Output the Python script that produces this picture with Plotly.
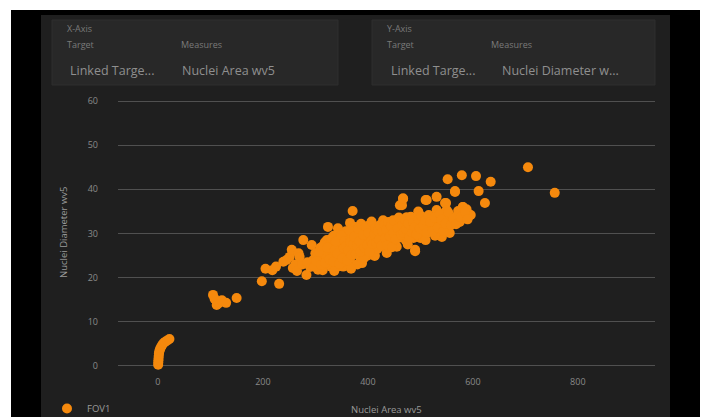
import plotly.graph_objects as go

# ---------------- data ----------------
series_name = "FOV1"

x_tick_vals = [0, 200, 400, 600, 800]
y_tick_vals = [0, 10, 20, 30, 40, 50, 60]

area_small = [0.5, 0.8, 1.0, 1.3, 1.6, 2.0, 2.6, 3.5, 4.8, 6.5, 8.5, 11, 14, 18, 22]
diam_small = [0.3, 0.8, 1.3, 1.8, 2.3, 2.8, 3.2, 3.6, 4.0, 4.4, 4.8, 5.2, 5.5, 5.8, 6.1]

area_low = [105, 108, 112, 116, 122, 130, 150]
diam_low = [16.1, 15.2, 13.8, 14.2, 14.9, 14.3, 15.4]

area_main = [
    198, 231, 218, 205, 225, 239,
    245, 251, 255, 257, 262, 268, 270, 277, 265, 275,
    283, 290, 293, 296, 300, 303, 305, 308, 312, 314, 316, 318, 285, 298, 310, 320,
    324, 328, 322, 325, 330, 332, 335, 338, 340, 341, 343, 345, 347, 350, 352, 355,
    357, 360, 326, 333, 336, 344, 348, 353, 358,
    366, 366, 366, 371, 373, 375, 378, 380, 382, 385, 385, 388, 389, 390, 392, 395,
    398, 400, 362, 368, 370, 376, 383, 393, 397,
    402, 405, 408, 410, 413, 413, 415, 417, 420, 422, 425, 429, 429, 432, 436, 438,
    404, 411, 418, 427, 434, 440,
    443, 448, 450, 455, 455, 458, 461, 465, 467, 467, 470, 472, 474, 474, 478, 480,
    445, 452, 462, 476,
    483, 487, 490, 490, 492, 495, 498, 500, 503, 505, 505, 508, 510, 512, 514, 518,
    485, 496, 510,
    522, 525, 531, 531, 535, 538, 541, 543, 547, 549, 550, 552, 556, 556, 528, 545,
    566, 566, 575, 579, 581, 581, 594, 596, 606, 611, 570, 588, 623, 634,
    705, 756,
    302, 307, 311, 315, 319, 323, 327, 331, 334, 337, 339, 342, 346, 349, 351, 354,
    356, 359, 361, 363, 365, 367, 369, 372, 374, 377, 379, 381, 384, 386, 387, 391,
    394, 396, 399, 401, 403, 406, 407, 409, 412, 414, 416, 419, 421, 423, 426, 428,
    431, 433, 435, 437, 439, 442, 444, 446, 449, 451, 453, 457, 459, 463, 466, 468,
    471, 473, 477, 479, 482, 484, 486, 489, 493, 497, 499, 502, 506, 509, 513, 516,
    519, 523, 527, 533, 537, 540, 544, 548, 553, 558, 563, 568, 572, 577, 585, 590,
]
diam_main = [
    19.2, 18.6, 21.7, 22.0, 22.5, 23.6,
    24.0, 24.7, 26.3, 22.2, 23.0, 25.5, 24.7, 28.5, 21.5, 23.0,
    20.6, 22.4, 27.4, 24.0, 25.5, 24.7, 21.8, 23.2, 24.0, 21.7, 26.0, 28.0, 23.5, 22.5, 26.8, 24.8,
    31.5, 25.6, 28.5, 23.0, 22.5, 27.0, 29.5, 25.0, 23.5, 22.4, 31.2, 27.5, 24.7, 26.0, 27.8, 29.0,
    23.5, 25.5, 26.5, 24.5, 21.5, 30.0, 28.5, 22.5, 30.5,
    32.4, 24.0, 27.0, 35.1, 30.0, 26.0, 28.0, 23.0, 29.5, 24.7, 30.1, 27.0, 23.3, 31.0, 26.0, 28.5,
    28.5, 25.0, 29.0, 22.0, 26.5, 31.5, 26.5, 24.5, 30.5,
    27.0, 29.0, 31.0, 26.0, 25.1, 24.9, 28.0, 31.5, 29.5, 27.0, 30.0, 29.2, 33.0, 27.5, 25.6, 31.0,
    32.0, 30.0, 26.5, 28.5, 29.8, 28.0,
    30.0, 33.0, 27.5, 30.8, 27.0, 29.0, 36.4, 36.4, 37.8, 38.0, 31.5, 28.5, 29.2, 33.7, 30.5, 32.4,
    28.5, 31.5, 33.0, 27.5,
    31.0, 29.0, 26.0, 26.3, 33.0, 30.5, 32.0, 29.0, 31.5, 33.5, 29.2, 30.5, 37.6, 37.6, 32.0, 30.8,
    33.5, 35.0, 28.5,
    33.0, 31.0, 38.3, 35.3, 32.0, 30.0, 29.2, 31.5, 36.9, 36.9, 35.3, 42.3, 33.0, 30.1, 29.5, 33.5,
    39.6, 39.4, 32.6, 43.2, 36.0, 36.0, 34.2, 34.2, 43.0, 39.6, 34.0, 35.5, 36.9, 41.7,
    45.0, 39.2,
    23.8, 25.9, 22.9, 27.2, 23.4, 26.8, 24.1, 28.9, 23.6, 26.3, 28.2, 25.4, 23.1, 29.6, 24.4, 26.7,
    28.3, 27.1, 23.9, 26.2, 30.7, 28.1, 25.1, 27.6, 29.3, 25.4, 27.2, 31.1, 28.3, 25.9, 32.2, 29.7,
    26.8, 31.6, 27.4, 30.1, 25.8, 28.2, 32.7, 27.6, 29.9, 31.2, 27.9, 30.6, 28.6, 31.9, 27.2, 30.4,
    32.1, 28.9, 30.9, 27.3, 32.6, 29.4, 31.7, 26.9, 30.2, 32.8, 28.7, 31.2, 33.6, 29.7, 31.9, 30.2,
    33.1, 30.9, 32.3, 29.1, 33.8, 30.3, 32.4, 31.4, 29.8, 33.2, 31.1, 33.9, 31.8, 33.0, 30.2, 34.2,
    32.6, 30.4, 33.6, 31.3, 34.5, 33.1, 30.6, 32.2, 34.8, 31.9, 33.4, 32.1, 35.1, 33.7, 34.9, 33.2,
]

x_values = area_small + area_low + area_main
y_values = diam_small + diam_low + diam_main

x_title = "Nuclei Area wv5"
y_title = "Nuclei Diameter wv5"

# ---------------- layout geometry (pixels) ----------------
W, H = 704, 417
ML, MR, MT, MB = 118, 49, 92, 42
PW, PH = W - ML - MR, H - MT - MB


def px(x):
    return (x - ML) / PW


def py(y):
    return (H - MB - y) / PH


ORANGE = "#F5890D"
PANEL = "#1f1f1f"
BOX = "#282828"
TXT = "#8a8a8a"
FONT = "Open Sans"

fig = go.Figure()
fig.add_trace(go.Scatter(
    x=x_values, y=y_values, mode="markers", name=series_name,
    marker=dict(color=ORANGE, size=10, line=dict(width=0)),
    cliponaxis=False, showlegend=True,
))

shapes = []
# white strips of the screenshot edge
shapes.append(dict(type="rect", xref="paper", yref="paper", x0=px(-5), x1=px(W + 5), y0=py(10), y1=py(-5),
                   fillcolor="white", line=dict(width=0), layer="below"))
shapes.append(dict(type="rect", xref="paper", yref="paper", x0=px(-5), x1=px(11), y0=py(H + 5), y1=py(-5),
                   fillcolor="white", line=dict(width=0), layer="below"))
shapes.append(dict(type="rect", xref="paper", yref="paper", x0=px(700), x1=px(W + 5), y0=py(H + 5), y1=py(-5),
                   fillcolor="white", line=dict(width=0), layer="below"))
# dark panel
shapes.append(dict(type="rect", xref="paper", yref="paper", x0=px(41), x1=px(670), y0=py(H + 5), y1=py(15),
                   fillcolor=PANEL, line=dict(width=0), layer="below"))
# filter boxes
for bx0, bx1 in [(52, 338), (372, 655)]:
    shapes.append(dict(type="rect", xref="paper", yref="paper", x0=px(bx0), x1=px(bx1), y0=py(85), y1=py(20),
                       fillcolor=BOX, line=dict(width=1, color="#2e2e2e"), layer="below"))

annotations = []


def label(text, x, y, size, color=TXT, anchor="left", angle=0):
    annotations.append(dict(text=text, xref="paper", yref="paper", x=px(x), y=py(y),
                            xanchor=anchor, yanchor="middle", showarrow=False, textangle=angle,
                            font=dict(family=FONT, size=size, color=color)))


label("X-Axis", 65, 29, 9, "#7a7a7a")
label("Target", 65, 45, 9, "#7a7a7a")
label("Measures", 179, 45, 9, "#7a7a7a")
label("Linked Targe...", 68, 71, 12.5, "#8f8f8f")
label("Nuclei Area wv5", 180, 71, 12.5, "#8f8f8f")
label("Y-Axis", 385, 29, 9, "#7a7a7a")
label("Target", 385, 45, 9, "#7a7a7a")
label("Measures", 489, 45, 9, "#7a7a7a")
label("Linked Targe...", 389, 71, 12.5, "#8f8f8f")
label("Nuclei Diameter w...", 500, 71, 12.5, "#8f8f8f")
# axis titles
label(x_title, 386, 409, 9.5, "#9a9a9a", anchor="center")
label(y_title, 63, 233, 9.5, "#9a9a9a", anchor="center", angle=-90)

fig.update_layout(
    width=W, height=H,
    margin=dict(l=ML, r=MR, t=MT, b=MB, pad=0, autoexpand=False),
    paper_bgcolor="black", plot_bgcolor="rgba(0,0,0,0)",
    font=dict(family=FONT, color=TXT, size=9),
    shapes=shapes, annotations=annotations,
    showlegend=True,
    legend=dict(xref="container", yref="container", x=47 / W, y=(H - 394) / H,
                xanchor="left", yanchor="top", bgcolor="rgba(0,0,0,0)",
                font=dict(size=9.5, color="#9a9a9a"), itemwidth=30),
    xaxis=dict(range=[-76, 947], tickvals=x_tick_vals, showgrid=False, zeroline=False,
               showline=False, ticks="", tickfont=dict(size=9, color=TXT),
               automargin=False),
    yaxis=dict(range=[-2.04, 62.04], tickvals=y_tick_vals, showgrid=True, gridcolor="#505050",
               gridwidth=1, zeroline=True, zerolinecolor="#505050", zerolinewidth=1,
               showline=False, ticks="", tickfont=dict(size=9, color=TXT), ticklabelstandoff=19,
               automargin=False),
)

fig.write_html("out.html", config={"displayModeBar": False},
               post_script="document.body.style.margin='0';document.body.style.overflow='hidden';")
